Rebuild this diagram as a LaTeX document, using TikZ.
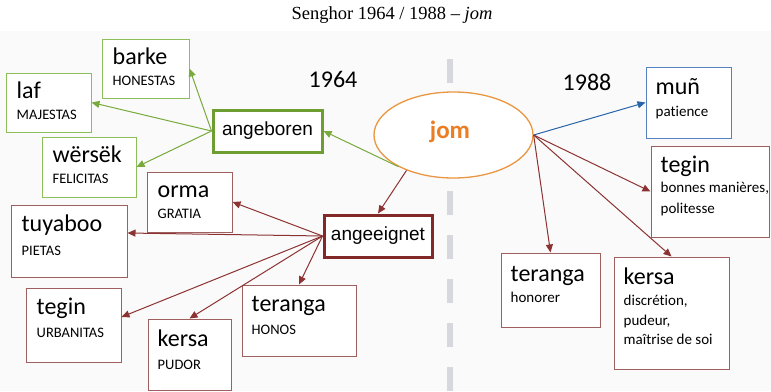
\documentclass[tikz,border=0pt]{standalone}
\usepackage{fontspec}
\setmainfont{Carlito}[Ligatures=NoCommon]
\newfontfamily\titlefont[Ligatures=TeX]{Liberation Serif}
\newfontfamily\arialfont{Liberation Sans}
\usetikzlibrary{arrows.meta,shapes.geometric}
\definecolor{bggray}{RGB}{250,250,250}
\definecolor{boxgreen}{RGB}{140,190,90}
\definecolor{darkgreen}{RGB}{110,158,50}
\definecolor{arrgreen}{RGB}{120,170,60}
\definecolor{boxred}{RGB}{160,95,95}
\definecolor{darkred}{RGB}{130,40,40}
\definecolor{arrred}{RGB}{140,50,50}
\definecolor{boxblue}{RGB}{85,130,190}
\definecolor{arrblue}{RGB}{40,100,170}
\definecolor{ellorange}{RGB}{235,150,65}
\definecolor{txtorange}{RGB}{235,125,35}
\definecolor{dashgray}{RGB}{215,215,222}
\begin{document}
\begin{tikzpicture}[x=1pt,y=-1pt,
  sz/.style 2 args={minimum width=#1pt, minimum height=#2pt},
  basebox/.style={rectangle, fill=white, line width=1pt, inner sep=0pt},
  gbox/.style={basebox, draw=boxgreen},
  rbox/.style={basebox, draw=boxred},
  bbox/.style={basebox, draw=boxblue},
  ttl/.style={anchor=base west, inner sep=0pt, font=\fontsize{24}{24}\selectfont},
  capsub/.style={anchor=base west, inner sep=0pt, font=\fontsize{14.5}{14.5}\selectfont},
  smsub/.style={anchor=base west, inner sep=0pt, font=\fontsize{15}{15}\selectfont},
  hub/.style={rectangle, fill=white, line width=3pt, inner sep=0pt, font=\arialfont\fontsize{19}{19}\selectfont},
  arr/.style={line width=1pt, -{Triangle[length=8pt,width=7pt]}},
  garrow/.style={arr, draw=arrgreen, arrgreen},
  rarrow/.style={arr, draw=arrred, arrred},
  barrow/.style={arr, draw=arrblue, arrblue},
  yearlbl/.style={inner sep=0pt, font=\fontsize{24}{24}\selectfont}
]
\useasboundingbox (0,0) rectangle (771,391);
\fill[white] (0,0) rectangle (771,391);
\fill[bggray] (0,31) rectangle (771,391);

% title
\node[inner sep=0pt, font=\titlefont\fontsize{18.5}{18.5}\selectfont] (title) at (392,15) {Senghor 1964 / 1988 – \textit{jom}};

% dashed separator
\coordinate (dtop) at (450,59);
\coordinate (dbot) at (450,391);
\draw[dashgray, line width=6pt, dash pattern=on 24pt off 20pt] (dtop) -- (dbot);

% year labels
\node[yearlbl] (y1964) at (333,79) {1964};
\node[yearlbl] (y1988) at (587,82) {1988};

% central ellipse
\node[ellipse, draw=ellorange, line width=1.3pt, fill=white, minimum width=159pt, minimum height=86pt, inner sep=0pt] (jom) at (453.5,135) {};
\node[inner sep=0pt, text=txtorange, font=\bfseries\fontsize{25}{25}\selectfont] (jomt) at (450,132) {jom};

% hubs
\node[hub, draw=darkgreen, sz={109}{42}] (angeboren) at (267.5,131) {angeboren};
\node[hub, draw=darkred, sz={108}{42}] (angeeignet) at (378,236) {angeeignet};

% green boxes
\node[gbox, sz={87}{59}] (barke) at (145.5,68.5) {};
\node[ttl] (barke-t) at ([xshift=11pt,yshift=-26pt]barke.north west) {barke};
\node[capsub] (barke-s) at ([yshift=-21pt]barke-t.base west) {HONESTAS};

\node[gbox, sz={85}{59}] (laf) at (48.5,102.5) {};
\node[ttl] (laf-t) at ([xshift=11pt,yshift=-26pt]laf.north west) {laf};
\node[capsub] (laf-s) at ([yshift=-21pt]laf-t.base west) {MAJESTAS};

\node[gbox, sz={94}{60}] (wersek) at (89,167) {};
\node[ttl] (wersek-t) at ([xshift=11pt,yshift=-26pt]wersek.north west) {wërsëk};
\node[capsub] (wersek-s) at ([yshift=-21pt]wersek-t.base west) {FELICITAS};

% red boxes left
\node[rbox, sz={85}{60}] (orma) at (189.5,202) {};
\node[ttl] (orma-t) at ([xshift=11pt,yshift=-26pt]orma.north west) {orma};
\node[capsub] (orma-s) at ([yshift=-21pt]orma-t.base west) {GRATIA};

\node[rbox, sz={116}{72}] (tuyaboo) at (69,241) {};
\node[ttl] (tuyaboo-t) at ([xshift=11pt,yshift=-27pt]tuyaboo.north west) {tuyaboo};
\node[capsub] (tuyaboo-s) at ([yshift=-24pt]tuyaboo-t.base west) {PIETAS};

\node[rbox, sz={95}{74}] (tegina) at (73.5,325) {};
\node[ttl] (tegina-t) at ([xshift=11pt,yshift=-27pt]tegina.north west) {tegin};
\node[capsub] (tegina-s) at ([yshift=-23pt]tegina-t.base west) {URBANITAS};

\node[rbox, sz={83}{71}] (kersaa) at (189.5,354.5) {};
\node[ttl] (kersaa-t) at ([xshift=10pt,yshift=-28pt]kersaa.north west) {kersa};
\node[capsub] (kersaa-s) at ([yshift=-23pt]kersaa-t.base west) {PUDOR};

\node[rbox, sz={114}{71}] (terangaa) at (299,320.5) {};
\node[ttl] (terangaa-t) at ([xshift=10pt,yshift=-27pt]terangaa.north west) {teranga};
\node[capsub] (terangaa-s) at ([yshift=-23pt]terangaa-t.base west) {HONOS};

% right boxes
\node[bbox, sz={85}{71}] (mun) at (688.5,102.5) {};
\node[ttl] (mun-t) at ([xshift=10pt,yshift=-28pt]mun.north west) {muñ};
\node[smsub] (mun-s) at ([yshift=-22pt]mun-t.base west) {patience};

\node[rbox, sz={118}{91}] (teginb) at (710,191.5) {};
\node[ttl] (teginb-t) at ([xshift=10pt,yshift=-27pt]teginb.north west) {tegin};
\node[smsub] (teginb-s1) at ([yshift=-20pt]teginb-t.base west) {bonnes manières,};
\node[smsub] (teginb-s2) at ([yshift=-41pt]teginb-t.base west) {politesse};

\node[rbox, sz={99}{74}] (terangab) at (550.5,290) {};
\node[ttl] (terangab-t) at ([xshift=10pt,yshift=-29pt]terangab.north west) {teranga};
\node[smsub] (terangab-s) at ([yshift=-21pt]terangab-t.base west) {honorer};

\node[rbox, sz={115}{112}] (kersab) at (671.5,313) {};
\node[ttl] (kersab-t) at ([xshift=10pt,yshift=-28pt]kersab.north west) {kersa};
\node[smsub] (kersab-s1) at ([yshift=-21pt]kersab-t.base west) {discrétion,};
\node[smsub] (kersab-s2) at ([yshift=-41pt]kersab-t.base west) {pudeur,};
\node[smsub] (kersab-s3) at ([yshift=-60pt]kersab-t.base west) {maîtrise de soi};

% connectors
\draw[garrow] (jom.210) -- (angeboren.east);
\draw[rarrow] (jom.217) -- (angeeignet.north);

\draw[garrow] (angeboren.west) -- (barke.east);
\draw[garrow] (angeboren.west) -- (laf.east);
\draw[garrow] (angeboren.west) -- (wersek.east);

\draw[rarrow] (angeeignet.west) -- (orma.east);
\draw[rarrow] (angeeignet.west) -- ([yshift=8pt]tuyaboo.east);
\draw[rarrow] (angeeignet.west) -- ([yshift=8pt]tegina.east);
\draw[rarrow] (angeeignet.west) -- (kersaa.north);
\draw[rarrow] (angeeignet.west) -- (terangaa.north);

\draw[barrow] (jom.east) -- (mun.west);
\draw[rarrow] (jom.east) -- (teginb.west);
\draw[rarrow] (jom.east) -- (kersab.north);
\draw[rarrow] (jom.east) -- (terangab.north);
\end{tikzpicture}
\end{document}
